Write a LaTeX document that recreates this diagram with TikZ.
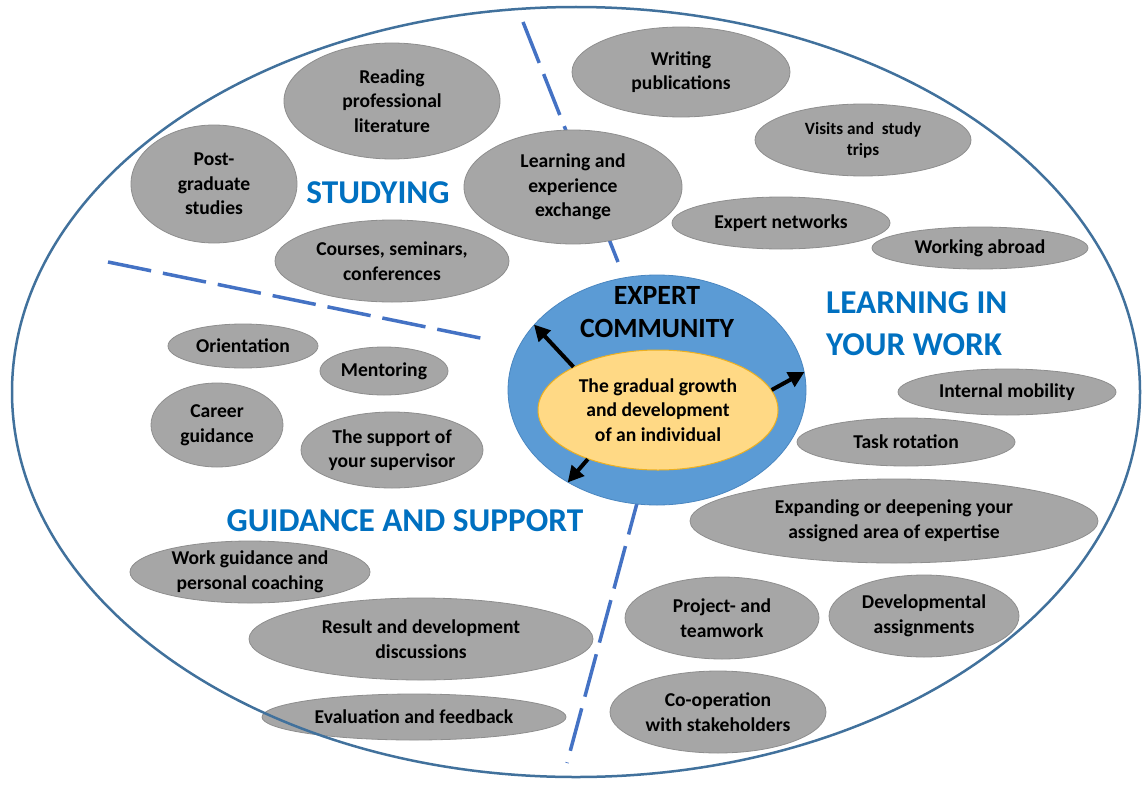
\documentclass[tikz,border=0pt]{standalone}
\usepackage{fontspec}
\setmainfont{Carlito}
\usetikzlibrary{shapes.geometric, arrows.meta}
\definecolor{gfill}{HTML}{A6A6A6}
\definecolor{gdraw}{HTML}{8E8E8E}
\definecolor{outerc}{HTML}{41719C}
\definecolor{sepc}{HTML}{4472C4}
\definecolor{titlec}{HTML}{0070C0}
\definecolor{bluefill}{HTML}{5B9BD5}
\definecolor{bluedraw}{HTML}{4A86C0}
\definecolor{yelfill}{HTML}{FFD985}
\definecolor{yeldraw}{HTML}{EDB020}
\begin{document}
\begin{tikzpicture}[x=1pt,y=-1pt,
  bub/.style={ellipse, fill=gfill, draw=gdraw, line width=0.8pt, inner sep=0pt, align=center,
    font=\bfseries\fontsize{19.6}{24.5}\selectfont},
  sepline/.style={draw=sepc, line width=3.5pt, dash pattern=on 44pt off 12pt},
  sectitle/.style={text=titlec, font=\bfseries\fontsize{33.3}{42}\selectfont, inner sep=0pt},
  growarrow/.style={line width=4pt, -{Triangle[length=16pt,width=16pt]}}
]
\useasboundingbox (0,0) rectangle (1147,784);

% separators
\coordinate (s1a) at (523,22);  \coordinate (s1b) at (618,262);
\coordinate (s2a) at (108,262); \coordinate (s2b) at (490,340);
\coordinate (s3a) at (640,492); \coordinate (s3b) at (567,763);
\draw[sepline] (s1a) -- (s1b);
\draw[sepline] (s2a) -- (s2b);
\draw[sepline] (s3a) -- (s3b);

% studying
\node[bub, minimum width=216pt, minimum height=116pt] (read) at (392,101) {Reading\\professional\\literature};
\node[bub, minimum width=166pt, minimum height=118pt] (post) at (214,184) {Post-\\graduate\\studies};
\node[bub, minimum width=218pt, minimum height=114pt] (lee) at (573,187) {Learning and\\experience\\exchange};
\node[bub, minimum width=234pt, minimum height=82pt] (courses) at (392,261) {Courses, seminars,\\conferences};

% learning in work
\node[bub, minimum width=218pt, minimum height=90pt] (writ) at (681,72) {Writing\\publications};
\node[bub, minimum width=216pt, minimum height=72pt, font=\bfseries\fontsize{17.2}{21}\selectfont] (visits) at (863,140) {Visits and\ \ study\\trips};
\node[bub, minimum width=218pt, minimum height=52pt] (expnet) at (781,223) {Expert networks};
\node[bub, minimum width=216pt, minimum height=42pt] (abroad) at (980,248) {Working abroad};
\node[bub, minimum width=218pt, minimum height=46pt] (intmob) at (1007,392) {Internal mobility};
\node[bub, minimum width=218pt, minimum height=48pt] (task) at (906,442) {Task rotation};
\node[bub, minimum width=408pt, minimum height=84pt] (expand) at (894,521) {Expanding or deepening your\\assigned area of expertise};
\node[bub, minimum width=194pt, minimum height=82pt] (proj) at (722,618) {Project- and\\teamwork};
\node[bub, minimum width=190pt, minimum height=82pt] (devass) at (924,616) {Developmental\\assignments};
\node[bub, minimum width=216pt, minimum height=82pt] (coop) at (718,712) {Co-operation\\with stakeholders};

% guidance
\node[bub, minimum width=150pt, minimum height=44pt] (orient) at (243,346) {Orientation};
\node[bub, minimum width=128pt, minimum height=48pt] (mentor) at (384,371) {Mentoring};
\node[bub, minimum width=132pt, minimum height=84pt] (career) at (217,425) {Career\\guidance};
\node[bub, minimum width=182pt, minimum height=76pt] (superv) at (392,450) {The support of\\your supervisor};
\node[bub, minimum width=240pt, minimum height=62pt] (workg) at (250,572) {Work guidance and\\personal coaching};
\node[bub, minimum width=344pt, minimum height=82pt] (result) at (421,639) {Result and development\\discussions};
\node[bub, minimum width=304pt, minimum height=46pt] (evalf) at (414,717) {Evaluation and feedback};

% outer ellipse
\node[ellipse, draw=outerc, line width=2.5pt, minimum width=1128pt, minimum height=770pt, inner sep=0pt] (outer) at (576,392) {};

% centre
\node[ellipse, fill=bluefill, draw=bluedraw, line width=0.8pt, minimum width=298pt, minimum height=230pt, inner sep=0pt] (blue) at (657,390) {};
\node[font=\bfseries\fontsize{27.8}{32.5}\selectfont, align=center, inner sep=0pt] (expc) at (657,312) {EXPERT\\COMMUNITY};
\node[ellipse, fill=yelfill, draw=yeldraw, line width=1pt, minimum width=240pt, minimum height=120pt, inner sep=0pt, align=center,
  font=\bfseries\fontsize{19.6}{24.5}\selectfont] (yel) at (658,410) {The gradual growth\\and development\\of an individual};

\draw[growarrow] (yel.153) -- (blue.152);
\draw[growarrow] (yel.10) -- (blue.7);
\draw[growarrow] (yel.215) -- (blue.226);

% titles
\node[sectitle] (tstud) at (378,193) {STUDYING};
\node[sectitle, anchor=west, align=left] (twork) at (826,324) {LEARNING IN\\YOUR WORK};
\node[sectitle] (tguid) at (405,521) {GUIDANCE AND SUPPORT};
\end{tikzpicture}
\end{document}
